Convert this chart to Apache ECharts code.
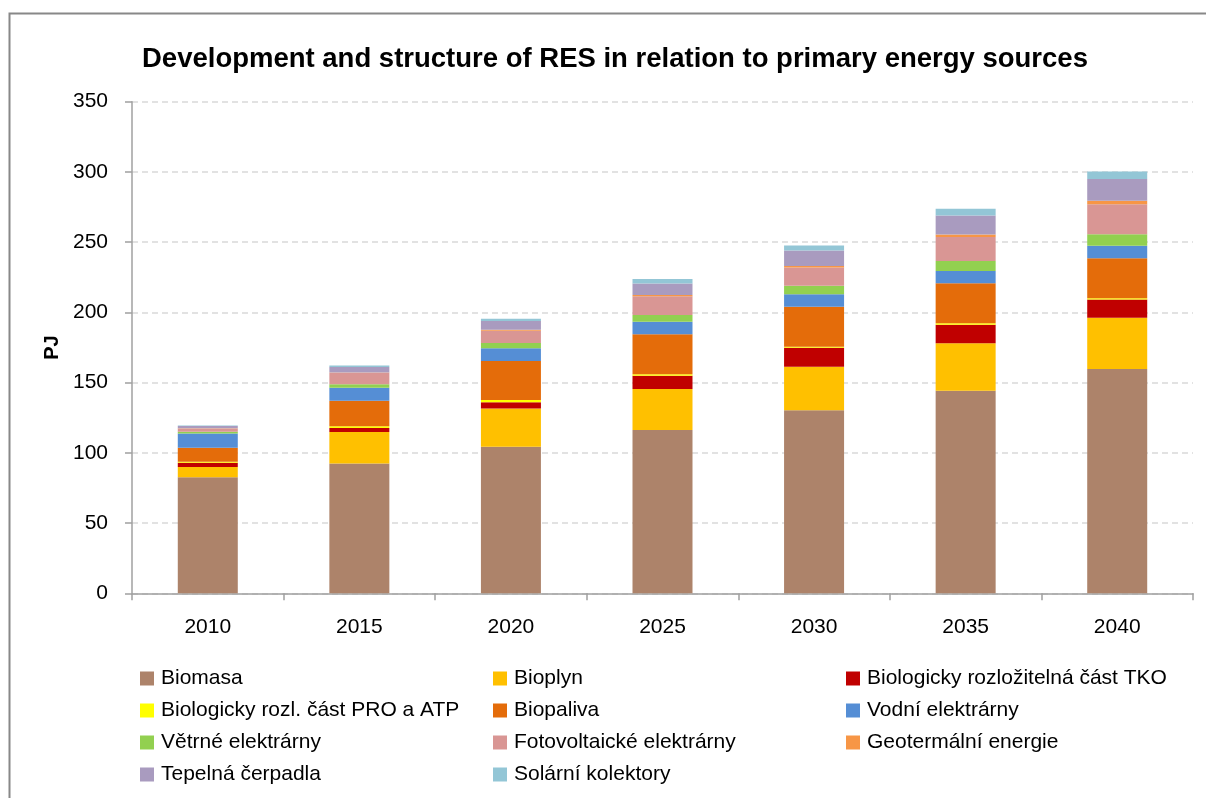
<!DOCTYPE html>
<html>
<head>
<meta charset="utf-8">
<script src="https://cdn.jsdelivr.net/npm/echarts@6/dist/echarts.min.js"></script>
<style>html,body{margin:0;padding:0;background:#fff}#c{width:1206px;height:798px}</style>
</head>
<body>
<div id="c"></div>
<script>
const years = ['2010','2015','2020','2025','2030','2035','2040'];
const yTicks = [0, 50, 100, 150, 200, 250, 300, 350];
const biomasa   = [82.7, 92.4, 104.3, 116.2, 130.4, 144.2, 159.7];
const bioplyn   = [7.3, 22.4, 27.3, 29.2, 30.9, 33.8, 36.5];
const tko       = [2.9, 2.8, 4.5, 9.5, 13.5, 13.2, 12.9];
const pro       = [0.7, 1.4, 1.5, 1.0, 0.8, 1.0, 1.0];
const biopaliva = [10.0, 18.1, 27.8, 28.5, 28.5, 28.5, 28.5];
const vodni     = [10.2, 9.2, 9.0, 9.0, 8.8, 8.8, 8.9];
const vetrne    = [1.2, 2.5, 3.8, 4.7, 6.1, 7.1, 8.2];
const foto      = [2.4, 8.2, 8.8, 13.4, 12.9, 17.1, 21.3];
const geo       = [0.1, 0.2, 0.7, 0.9, 1.2, 1.7, 2.4];
const tepelna   = [1.6, 3.9, 6.2, 8.1, 10.9, 13.5, 15.5];
const solar     = [0.3, 1.0, 1.6, 3.3, 3.6, 4.8, 5.4];

const names = ['Biomasa','Bioplyn','Biologicky rozložitelná část TKO','Biologicky rozl. část PRO a ATP','Biopaliva','Vodní elektrárny','Větrné elektrárny','Fotovoltaické elektrárny','Geotermální energie','Tepelná čerpadla','Solární kolektory'];
const values = [biomasa, bioplyn, tko, pro, biopaliva, vodni, vetrne, foto, geo, tepelna, solar];
const colors = ['#AD836A','#FFC000','#C00000','#FFFF00','#E46C0A','#558ED5','#92D050','#D99694','#F79646','#A99BBF','#93C6D6'];

const FONT = '"Liberation Sans", Arial, sans-serif';
const series = names.map((n, i) => ({
  name: n, type: 'bar', stack: 'total', barWidth: 60,
  data: values[i], itemStyle: { color: colors[i] }
}));

const legendBase = {
  orient: 'vertical', icon: 'rect', itemWidth: 14, itemHeight: 14, itemGap: 11, top: 668, padding: 0,
  textStyle: { fontFamily: FONT, fontSize: 21, lineHeight: 20, color: '#000', padding: [0,0,0,2] },
  selectedMode: false
};

const chart = echarts.init(document.getElementById('c'), null, { renderer: 'canvas' });
chart.setOption({
  animation: false,
  backgroundColor: '#fff',
  color: colors,
  title: {
    text: 'Development and structure of RES in relation to primary energy sources',
    left: 142, top: 45, padding: 0,
    textStyle: { fontFamily: FONT, fontSize: 27.5, fontWeight: 'bold', color: '#000' }
  },
  graphic: [{
    type: 'rect', left: 7, top: 11, shape: { width: 1400, height: 1000 },
    style: { fill: 'none', stroke: '#888888', lineWidth: 2 }, silent: true
  }],
  legend: [
    Object.assign({}, legendBase, { left: 140, data: [names[0], names[3], names[6], names[9]] }),
    Object.assign({}, legendBase, { left: 493, data: [names[1], names[4], names[7], names[10]] }),
    Object.assign({}, legendBase, { left: 846, data: [names[2], names[5], names[8]] })
  ],
  grid: { left: 132, right: 13, top: 101.7, bottom: 204.7, containLabel: false },
  xAxis: {
    type: 'category', data: years,
    axisLine: { lineStyle: { color: '#A0A0A0', width: 1.5 } },
    axisTick: { show: true, length: 7, alignWithLabel: false, lineStyle: { color: '#A0A0A0', width: 1.5 } },
    axisLabel: { fontFamily: FONT, fontSize: 21, color: '#000', margin: 23 }
  },
  yAxis: {
    type: 'value', min: yTicks[0], max: yTicks[yTicks.length - 1], interval: 50,
    name: 'PJ', nameLocation: 'middle', nameRotate: 90, nameGap: 70,
    nameTextStyle: { fontFamily: FONT, fontSize: 20, fontWeight: 'bold', color: '#000' },
    axisLine: { show: true, lineStyle: { color: '#A0A0A0', width: 1.5 } },
    axisTick: { show: true, length: 7, inside: false, lineStyle: { color: '#A0A0A0', width: 1.5 } },
    axisLabel: { fontFamily: FONT, fontSize: 21, color: '#000', margin: 24 },
    splitLine: { show: true, lineStyle: { color: '#D9D9D9', width: 1.5, type: [6, 4] } }
  },
  series: series
});
</script>
</body>
</html>
